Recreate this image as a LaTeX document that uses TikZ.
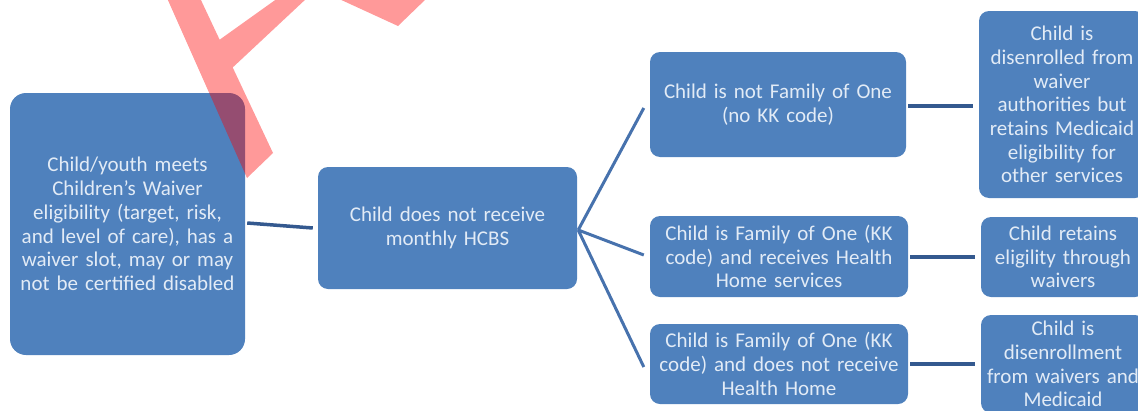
\documentclass[tikz,border=0pt]{standalone}
\usepackage{fontspec}
\setmainfont{Carlito}
\usetikzlibrary{calc}
\definecolor{boxfill}{HTML}{4F81BD}
\definecolor{boxtext}{HTML}{E2EBF6}
\definecolor{linedark}{HTML}{34598F}
\definecolor{linemid}{HTML}{4772AD}
\begin{document}
\begin{tikzpicture}[x=1pt,y=-1pt,
  box/.style={fill=boxfill, text=boxtext, rounded corners=10pt, align=center,
    inner sep=0pt, font=\fontsize{21}{23.7}\selectfont},
  conn/.style={draw=linedark, line width=3.5pt},
  forkline/.style={draw=linemid, line width=3pt},
  wmark/.style={fill=red, fill opacity=0.4}]
\useasboundingbox (0,0) rectangle (1138,410);
\path[clip] (0,0) rectangle (1138,410);

\node[box, rounded corners=16pt, minimum width=235pt, minimum height=262pt, text width=232pt] (A) at (127.5,224)
  {Child/youth meets\\Children's Waiver\\eligibility (target, risk,\\and level of care), has a\\waiver slot, may or may\\not be certified disabled};
\node[box, minimum width=259pt, minimum height=122pt, text width=250pt] (B) at (447.5,228)
  {Child does not receive\\monthly HCBS};
\node[box, minimum width=256pt, minimum height=105pt, text width=250pt] (C1) at (778,104.5)
  {Child is not Family of One\\(no KK code)};
\node[box, minimum width=258pt, minimum height=81pt, text width=254pt] (C2) at (779,256.5)
  {Child is Family of One (KK\\code) and receives Health\\Home services};
\node[box, minimum width=258pt, minimum height=80pt, text width=254pt] (C3) at (779,364)
  {Child is Family of One (KK\\code) and does not receive\\Health Home};
\node[box, minimum width=166pt, minimum height=187pt, text width=164pt] (D1) at (1062,104.5)
  {Child is\\disenrolled from\\waiver\\authorities but\\retains Medicaid\\eligibility for\\other services};
\node[box, minimum width=164pt, minimum height=80pt, text width=162pt] (D2) at (1063,257)
  {Child retains\\eligility through\\waivers};
\node[box, minimum width=164pt, minimum height=98pt, text width=162pt] (D3) at (1063,364)
  {Child is\\disenrollment\\from waivers and\\Medicaid};

\draw[conn] ($(A.east)+(2,-1)$) -- ($(B.west)+(-5,0)$);
\coordinate (F) at ($(B.east)+(1,2)$);
\draw[forkline] (F) -- ($(C1.west)+(-6,3.5)$);
\draw[forkline] (F) -- ($(C2.west)+(-6,-1.5)$);
\draw[forkline] (F) -- ($(C3.west)+(-6,3)$);
\draw[conn] ($(C1.east)+(2,1.5)$) -- ($(D1.west)+(-6,1.5)$);
\draw[conn] ($(C2.east)+(2,0.5)$) -- ($(D2.west)+(-6,0)$);
\draw[conn] ($(C3.east)+(2,0)$) -- ($(D3.west)+(-6,0)$);

\fill[wmark] (167,-2) -- (200,-2) -- (273,153) -- (247,178) -- cycle
  (215,43) -- (278,-2) -- (307,-2) -- (230,70) -- cycle
  (337,-2) -- (398,26) -- (427,-2) -- cycle;
\end{tikzpicture}
\end{document}
